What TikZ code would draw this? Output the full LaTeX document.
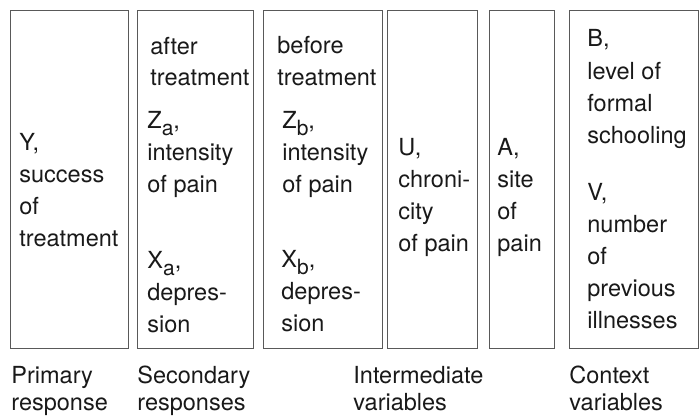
\documentclass[tikz,border=0pt]{standalone}
\usepackage{fontspec}
\setmainfont{TeX Gyre Heros}
\usepackage{tikz}
\usetikzlibrary{positioning}

\newcommand{\subidx}[1]{\raisebox{-0.3em}{\fontsize{10.5}{10.5}\selectfont #1}}

\begin{document}
\begin{tikzpicture}[
    x=0.5pt, y=-0.5pt,
    panel/.style={
        rectangle, draw=black!65, line width=0.6pt,
        anchor=north west, minimum height=169pt, inner sep=0
    },
    txt/.style={
        anchor=base west, align=left, inner sep=0,
        text=black!90, font=\fontsize{11.75}{16}\selectfont
    },
    caption/.style={txt, font=\fontsize{11.75}{13.5}\selectfont}
]
\useasboundingbox (0,0) rectangle (700,417);

% Columns
\node[panel, minimum width=59pt] (prim) at (10,10) {};
\node[panel, minimum width=58pt] (after) at (137,10) {};
\node[panel, minimum width=59.5pt] (before) at (263,10) {};
\node[panel, minimum width=45pt] (chron) at (387,10) {};
\node[panel, minimum width=32.5pt] (site) at (489,10) {};
\node[panel, minimum width=64.5pt] (context) at (569,10) {};

% Primary response (anchored at the last line)
\node[txt] (y) at (19,246) {Y,\\success\\of\\treatment};

% Secondary responses
\node[txt] (aftt) at (150,86) {after\\treatment};
\node[txt] (za) at (147,192) {Z\subidx{a},\\intensity\\of pain};
\node[txt] (xa) at (147,332) {X\subidx{a},\\depres-\\sion};

% Intermediate variables
\node[txt] (beft) at (277,85) {before\\treatment};
\node[txt] (zb) at (282,192) {Z\subidx{b},\\intensity\\of pain};
\node[txt] (xb) at (281,331) {X\subidx{b},\\depres-\\sion};
\node[txt] (u) at (398,251) {U,\\chroni-\\city\\of pain};
\node[txt] (a) at (497,251) {A,\\site\\of\\pain};

% Context variables
\node[txt] (b) at (587,143) {B,\\level of\\formal\\schooling};
\node[txt] (v) at (587,328) {V,\\number\\of\\previous\\illnesses};

% Captions
\node[caption] (cprim) at (11,410) {Primary\\response};
\node[caption] (csec) at (137,410) {Secondary\\responses};
\node[caption] (cint) at (353,410) {Intermediate\\variables};
\node[caption] (cctx) at (569,410) {Context\\variables};

\end{tikzpicture}
\end{document}
